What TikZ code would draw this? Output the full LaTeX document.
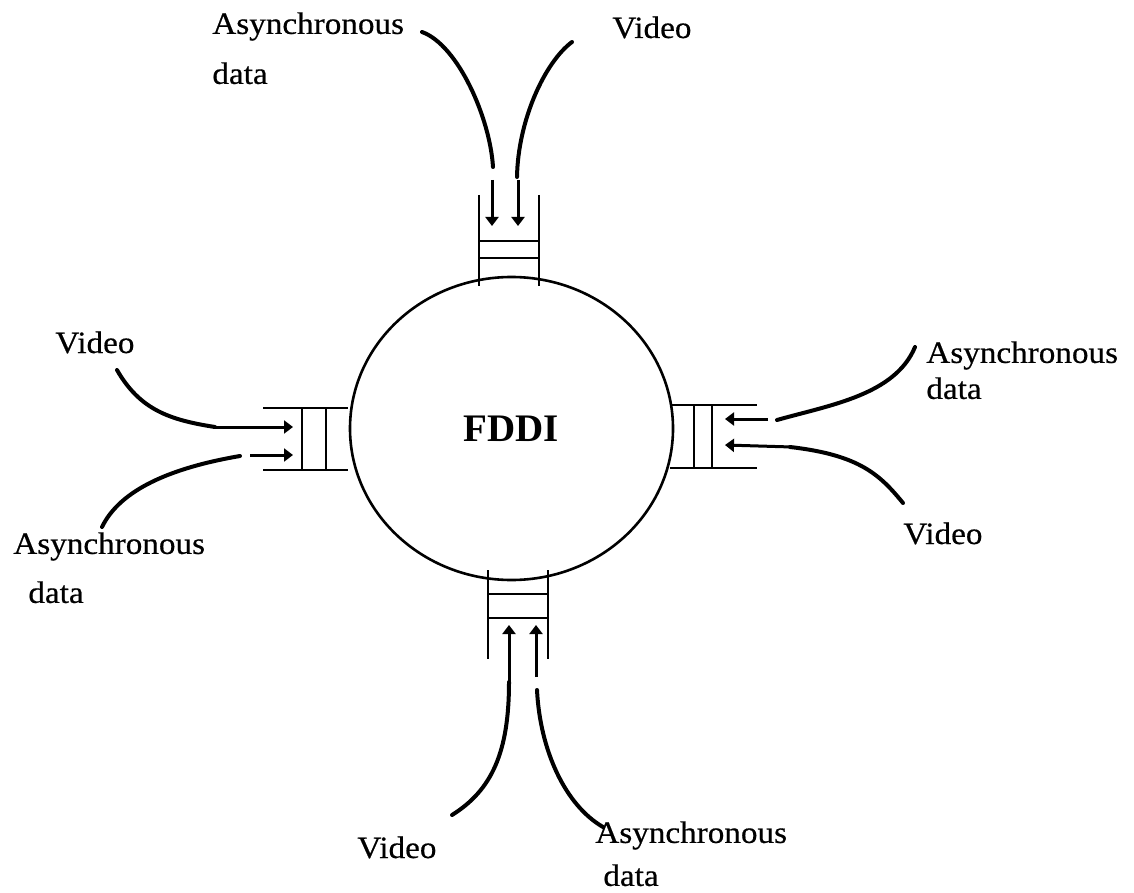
\documentclass[tikz,border=0pt]{standalone}
\usepackage{fontspec}
\setmainfont{Liberation Serif}
\newfontfamily\lblfamily[FakeStretch=1.07,FakeBold=0.5]{Liberation Serif}
\usetikzlibrary{arrows.meta,shapes.geometric}

\tikzset{
  ring/.style={ellipse, draw, line width=1.3pt, inner sep=0pt,
    minimum width=161.5pt, minimum height=151.5pt,
    font=\fontsize{19.5}{22}\selectfont\bfseries},
  qline/.style={line width=1.4pt},
  feed/.style={line width=2pt, line cap=round},
  shaft/.style={line width=1.5pt, -{Triangle[length=4.5pt,width=6.5pt]}},
  lbl/.style={inner sep=0pt, align=left},
}
\newcommand\lblsize[1]{\lblfamily\fontsize{15.5}{#1}\selectfont}

\begin{document}
\begin{tikzpicture}[x=0.5pt,y=-0.5pt]
\useasboundingbox (0,0) rectangle (1134,893);

% ring
\node[ring] (fddi) at (511.5,428.5) {FDDI};

% ---- top station ----
\draw[qline] (479,195) -- (479,286) (539,195) -- (539,286)
             (479,241) -- (539,241) (479,258) -- (539,258);
\node[lbl, anchor=north west, font=\lblsize{25}] (tA) at (212,12) {Asynchronous\\data};
\node[lbl, anchor=base west, font=\lblsize{18}] (tV) at (612,38) {Video};
\coordinate (tAs) at (422,32);  \coordinate (tAe) at (493,167);
\coordinate (tAa) at (492,180); \coordinate (tAt) at (492,226);
\coordinate (tVs) at (572,42);  \coordinate (tVe) at (517,177);
\coordinate (tVa) at (518,180); \coordinate (tVt) at (518,226);
\draw[feed] (tAs) .. controls (458,45) and (490,118) .. (tAe);
\draw[shaft] (tAa) -- (tAt);
\draw[feed] (tVs) .. controls (545,62) and (518,120) .. (tVe);
\draw[shaft] (tVa) -- (tVt);

% ---- left station ----
\draw[qline] (263,408) -- (348,408) (263,470) -- (348,470)
             (302,408) -- (302,470) (326,408) -- (326,470);
\node[lbl, anchor=base west, font=\lblsize{18}] (lV) at (55,353) {Video};
\node[lbl, anchor=north west, font=\lblsize{24.5}] (lA) at (13,532) {Asynchronous\\\hspace*{7.5pt}data};
\coordinate (lVs) at (117,370); \coordinate (lVt) at (293,427);
\coordinate (lAs) at (102,527); \coordinate (lAe) at (240,456);
\coordinate (lAa) at (250,455); \coordinate (lAt) at (293,455);
\draw[feed] (lVs) .. controls (140,410) and (170,420) .. (215,427);
\draw[shaft] (213,427) -- (lVt);
\draw[feed] (lAe) .. controls (170,468) and (120,490) .. (lAs);
\draw[shaft] (lAa) -- (lAt);

% ---- right station ----
\draw[qline] (670,405) -- (757,405) (670,468) -- (757,468)
             (694,405) -- (694,468) (712,405) -- (712,468);
\node[lbl, anchor=north west, font=\lblsize{18}] (rA) at (926,341) {Asynchronous\\data};
\node[lbl, anchor=base west, font=\lblsize{18}] (rV) at (903,544) {Video};
\coordinate (rAs) at (915,347); \coordinate (rAe) at (777,420);
\coordinate (rAa) at (768,419); \coordinate (rAt) at (725,419);
\coordinate (rVs) at (903,503); \coordinate (rVt) at (725,445);
\draw[feed] (rAs) .. controls (895,395) and (830,405) .. (rAe);
\draw[shaft] (rAa) -- (rAt);
\draw[feed] (rVs) .. controls (880,475) and (860,455) .. (790,447);
\draw[shaft] (792,447) -- (rVt);

% ---- bottom station ----
\draw[qline] (488,570) -- (488,659) (548,570) -- (548,659)
             (488,594) -- (548,594) (488,618) -- (548,618);
\node[lbl, anchor=base west, font=\lblsize{18}] (bV) at (357,858) {Video};
\node[lbl, anchor=north west, font=\lblsize{21.5}] (bA) at (595,821) {Asynchronous\\\hspace*{4pt}data};
\coordinate (bVs) at (452,815); \coordinate (bVt) at (509,625);
\coordinate (bAs) at (603,827); \coordinate (bAe) at (537,690);
\coordinate (bAa) at (536,677); \coordinate (bAt) at (536,625);
\draw[feed] (bVs) .. controls (492,790) and (509,752) .. (509,682);
\draw[shaft] (509,684) -- (bVt);
\draw[feed] (bAs) .. controls (565,805) and (540,750) .. (bAe);
\draw[shaft] (bAa) -- (bAt);
\end{tikzpicture}
\end{document}
